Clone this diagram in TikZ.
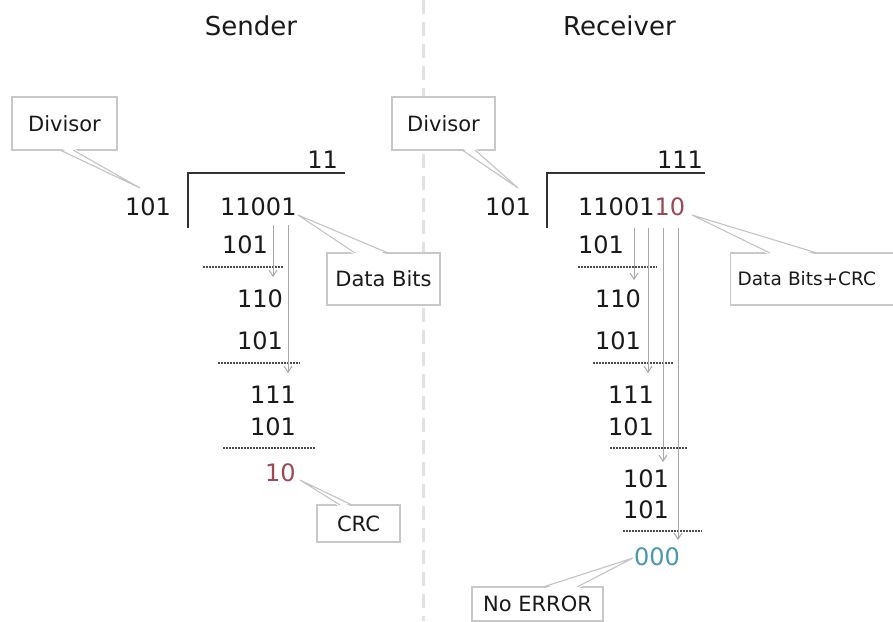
\documentclass[tikz,border=0pt]{standalone}
\usepackage{fontspec}
\setmainfont{DejaVu Sans}
\usetikzlibrary{arrows.meta}
\definecolor{txt}{HTML}{1A1A1A}
\definecolor{crcred}{HTML}{9A4A56}
\definecolor{okcyan}{HTML}{4A98A8}
\definecolor{boxline}{HTML}{C8C8C8}
\definecolor{leadline}{HTML}{C4C4C4}
\definecolor{arrowline}{HTML}{A8A8A8}
\definecolor{divline}{HTML}{E2E2E2}
\tikzset{
  title/.style={font=\fontsize{26}{28}\selectfont, text=txt, inner sep=0pt},
  digits/.style={font=\fontsize{24}{26}\selectfont, text=txt, inner sep=0pt, anchor=west},
  label box/.style={draw=boxline, line width=1.3pt, fill=white, font=\fontsize{21}{23}\selectfont, text=txt, inner sep=0pt},
  leader/.style={draw=leadline, line width=1.1pt},
  bracket/.style={draw=txt!90, line width=2pt},
  sumline/.style={draw=black!70, line width=1.4pt, dash pattern=on 1.5pt off 1.5pt},
  droparrow/.style={draw=arrowline, line width=1pt, -{Straight Barb[length=6pt,width=8pt]}},
}
\begin{document}
\begin{tikzpicture}[x=1pt,y=-1pt]
\useasboundingbox (0,0) rectangle (893,621);
\fill[white] (0,0) rectangle (893,621);
\begin{scope}
\clip (0,0) rectangle (893,621);
% divider
\draw[divline, line width=3pt, dash pattern=on 14pt off 8pt] (423,0) -- (423,621);

% titles
\node[title] (tS) at (251,26) {Sender};
\node[title, anchor=west] (tR) at (563,26) {Receiver};

% ===== Sender =====
\node[label box, minimum width=105pt, minimum height=53pt] (sdiv) at (64.5,123.5) {Divisor};
\node[digits, anchor=center] (sd) at (148,207) {101};
\draw[bracket] (188,228) -- (188,173) -- (345,173);
\node[digits, anchor=east] (sq) at (338,160) {11};
\node[digits] (s0) at (220,207) {11001};
\node[digits] (s1) at (222,245) {101};
\node[digits] (s2) at (237,299) {110};
\node[digits] (s3) at (237,341) {101};
\node[digits] (s4) at (250,395) {111};
\node[digits] (s5) at (250,427) {101};
\node[digits, text=crcred] (s6) at (265,473) {10};
\draw[sumline] (203,267) -- (283,267);
\draw[sumline] (218,363) -- (300,363);
\draw[sumline] (223,448) -- (315,448);
\coordinate (sa1) at (273,225); \coordinate (sb1) at (273,277);
\coordinate (sa2) at (288,225); \coordinate (sb2) at (288,373);
\draw[droparrow] (sa1) -- (sb1);
\draw[droparrow] (sa2) -- (sb2);

\node[label box, minimum width=113pt, minimum height=52pt] (sdata) at (383.5,279) {Data Bits};
\node[label box, minimum width=83pt, minimum height=37pt] (scrc) at (358.5,523.5) {CRC};

% sender leaders
\coordinate (lt1) at (140,188);
\fill[white] (60,148) -- (lt1) -- (73,148) -- cycle;
\draw[leader] (60,150) -- (lt1) -- (73,150);
\coordinate (lt2) at (298,215);
\fill[white] (355,255) -- (lt2) -- (388,255) -- cycle;
\draw[leader] (355,253) -- (lt2) -- (388,253);
\coordinate (lt3) at (300,480);
\fill[white] (340,507) -- (lt3) -- (352,507) -- cycle;
\draw[leader] (340,505) -- (lt3) -- (352,505);

% ===== Receiver =====
\node[label box, minimum width=103pt, minimum height=53pt] (rdiv) at (443.5,123.5) {Divisor};
\node[digits, anchor=center] (rd) at (508,207) {101};
\draw[bracket] (547,228) -- (547,173) -- (705,173);
\node[digits, anchor=east] (rq) at (703,160) {111};
\node[digits] (r0) at (578,207) {11001\textcolor{crcred}{10}};
\node[digits] (r1) at (578,245) {101};
\node[digits] (r2) at (595,299) {110};
\node[digits] (r3) at (595,341) {101};
\node[digits] (r4) at (608,395) {111};
\node[digits] (r5) at (608,427) {101};
\node[digits] (r6) at (623,479) {101};
\node[digits] (r7) at (623,510) {101};
\node[digits, text=okcyan] (r8) at (634,557) {000};
\draw[sumline] (578,267) -- (657,267);
\draw[sumline] (593,363) -- (673,363);
\draw[sumline] (610,448) -- (688,448);
\draw[sumline] (623,531) -- (702,531);
\coordinate (ra1) at (634,228); \coordinate (rb1) at (634,280);
\coordinate (ra2) at (648,228); \coordinate (rb2) at (648,373);
\coordinate (ra3) at (663,228); \coordinate (rb3) at (663,462);
\coordinate (ra4) at (678,228); \coordinate (rb4) at (678,540);
\draw[droparrow] (ra1) -- (rb1);
\draw[droparrow] (ra2) -- (rb2);
\draw[droparrow] (ra3) -- (rb3);
\draw[droparrow] (ra4) -- (rb4);

\node[label box, minimum width=200pt, minimum height=52pt, anchor=west, text width=190pt, align=left, font=\fontsize{18.5}{21}\selectfont] (rdata) at (730,279) {\hspace*{2pt}Data Bits+CRC};
\node[label box, minimum width=131pt, minimum height=34pt] (rok) at (537.5,604) {No ERROR};

% receiver leaders
\coordinate (lt4) at (518,188);
\fill[white] (462,148) -- (lt4) -- (475,148) -- cycle;
\draw[leader] (462,150) -- (lt4) -- (475,150);
\coordinate (lt5) at (692,215);
\fill[white] (770,255) -- (lt5) -- (817,255) -- cycle;
\draw[leader] (770,253) -- (lt5) -- (817,253);
\coordinate (lt6) at (633,558);
\fill[white] (543,589) -- (lt6) -- (577,589) -- cycle;
\draw[leader] (543,587) -- (lt6) -- (577,587);
\end{scope}
\end{tikzpicture}
\end{document}
